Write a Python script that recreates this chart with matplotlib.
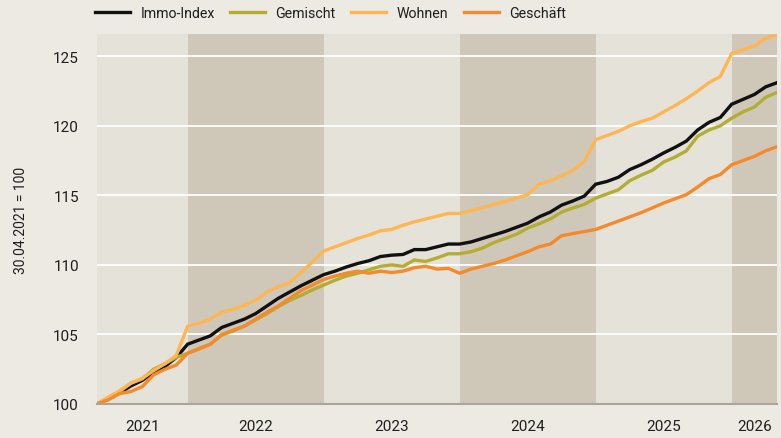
import matplotlib
matplotlib.use("Agg")
import matplotlib.pyplot as plt
import numpy as np

# Monthly index values, 30.04.2021 = 100 (Apr 2021 .. Apr 2026)
immo = [100.0, 100.4, 100.8, 101.3, 101.7, 102.3, 102.7, 103.35, 104.3, 104.6,
        104.9, 105.5, 105.8, 106.1, 106.5, 107.05, 107.6, 108.05, 108.5, 108.9,
        109.3, 109.55, 109.85, 110.1, 110.3, 110.6, 110.7, 110.75, 111.1, 111.1,
        111.3, 111.5, 111.5, 111.65, 111.9, 112.15, 112.4, 112.7, 113.0, 113.45,
        113.8, 114.3, 114.6, 114.95, 115.8, 116.0, 116.3, 116.85, 117.2, 117.6,
        118.05, 118.45, 118.9, 119.7, 120.25, 120.6, 121.55, 121.9, 122.25, 122.8,
        123.1]
gemischt = [100.0, 100.4, 100.9, 101.5, 101.8, 102.5, 102.9, 103.35, 103.65, 104.0,
            104.3, 104.95, 105.25, 105.6, 106.05, 106.5, 107.0, 107.45, 107.8, 108.2,
            108.55, 108.9, 109.2, 109.4, 109.65, 109.9, 110.0, 109.9, 110.35, 110.25,
            110.5, 110.8, 110.8, 110.95, 111.2, 111.6, 111.9, 112.2, 112.65, 112.95,
            113.3, 113.8, 114.1, 114.35, 114.8, 115.1, 115.4, 116.05, 116.45, 116.8,
            117.4, 117.75, 118.2, 119.25, 119.7, 120.0, 120.55, 121.0, 121.35, 122.05,
            122.4]
wohnen = [100.0, 100.5, 100.95, 101.5, 101.85, 102.4, 102.9, 103.5, 105.6, 105.8,
          106.1, 106.6, 106.8, 107.1, 107.45, 108.05, 108.45, 108.7, 109.45, 110.2,
          111.0, 111.3, 111.6, 111.9, 112.15, 112.45, 112.55, 112.85, 113.1, 113.3,
          113.5, 113.7, 113.7, 113.9, 114.1, 114.35, 114.55, 114.8, 115.05, 115.8,
          116.05, 116.4, 116.8, 117.45, 119.0, 119.3, 119.6, 120.0, 120.3, 120.55,
          121.0, 121.45, 121.95, 122.5, 123.1, 123.55, 125.2, 125.45, 125.75, 126.3,
          126.55]
geschaeft = [100.0, 100.3, 100.75, 100.9, 101.25, 102.1, 102.5, 102.8, 103.65, 103.95,
             104.3, 105.0, 105.3, 105.6, 106.1, 106.6, 107.05, 107.6, 108.15, 108.55,
             108.95, 109.2, 109.4, 109.55, 109.4, 109.55, 109.45, 109.55, 109.8, 109.9,
             109.7, 109.75, 109.4, 109.7, 109.9, 110.1, 110.35, 110.65, 110.95, 111.3,
             111.5, 112.1, 112.25, 112.4, 112.55, 112.85, 113.15, 113.45, 113.75, 114.1,
             114.45, 114.75, 115.05, 115.6, 116.2, 116.5, 117.2, 117.5, 117.8, 118.2,
             118.5]

series_names = ["Immo-Index", "Gemischt", "Wohnen", "Geschäft"]
series_values = [immo, gemischt, wohnen, geschaeft]
series_colors = ["#111111", "#b3ae33", "#fdb652", "#f48a2b"]

years = ["2021", "2022", "2023", "2024", "2025", "2026"]
# month offsets (from end of April 2021) where each year band starts/ends
year_edges = [0, 8, 20, 32, 44, 56, 60]
yticks = [100, 105, 110, 115, 120, 125]

months = np.arange(len(immo))

plt.rcParams['font.family'] = ['Roboto', 'DejaVu Sans']
FS = 10.5
LFS = 10.2
TXT = "#1e1e1e"

bg = "#edeae4"
light_band = "#e5e2da"
dark_band = "#cfc8b8"

fig = plt.figure(figsize=(7.81, 4.39), dpi=100, facecolor=bg)
ax = fig.add_axes([97 / 781, 34 / 439, 680 / 781, 370 / 439])
ax.set_facecolor(bg)

for i in range(len(years)):
    ax.axvspan(year_edges[i], year_edges[i + 1],
               color=dark_band if i % 2 == 1 else light_band, lw=0, zorder=0)

for y in yticks[1:]:
    ax.axhline(y, color="white", lw=1.3, zorder=1)

for name, vals, col in zip(series_names, series_values, series_colors):
    ax.plot(months, vals, color=col, lw=2.4, label=name, zorder=3,
            solid_joinstyle="miter")

ax.set_xlim(0, 60)
ax.set_ylim(100, 126.6)
ax.set_yticks(yticks)
ax.set_yticklabels([str(v) for v in yticks], fontsize=FS + 0.5, color=TXT)
centers = [(year_edges[i] + year_edges[i + 1]) / 2 for i in range(len(years))]
ax.set_xticks(centers)
ax.set_xticklabels(years, fontsize=FS + 0.5, color=TXT)
ax.tick_params(axis="both", length=0)
ax.tick_params(axis="y", pad=13)
ax.tick_params(axis="x", pad=11)

for s in ["top", "right", "left"]:
    ax.spines[s].set_visible(False)
ax.spines["bottom"].set_color("#a9a59d")
ax.spines["bottom"].set_linewidth(1.5)
ax.spines["bottom"].set_zorder(4)

ax.set_ylabel("30.04.2021 = 100", fontsize=FS - 0.5, color=TXT, labelpad=18)

leg = fig.legend(loc="center left", bbox_to_anchor=(95 / 781, 1 - 14 / 439),
                 ncol=4, frameon=False, fontsize=LFS, handlelength=2.45,
                 handletextpad=0.75, columnspacing=1.1, borderaxespad=0,
                 borderpad=0)
for t in leg.get_texts():
    t.set_color(TXT)

fig.savefig("out.png", dpi=100, facecolor=bg)
